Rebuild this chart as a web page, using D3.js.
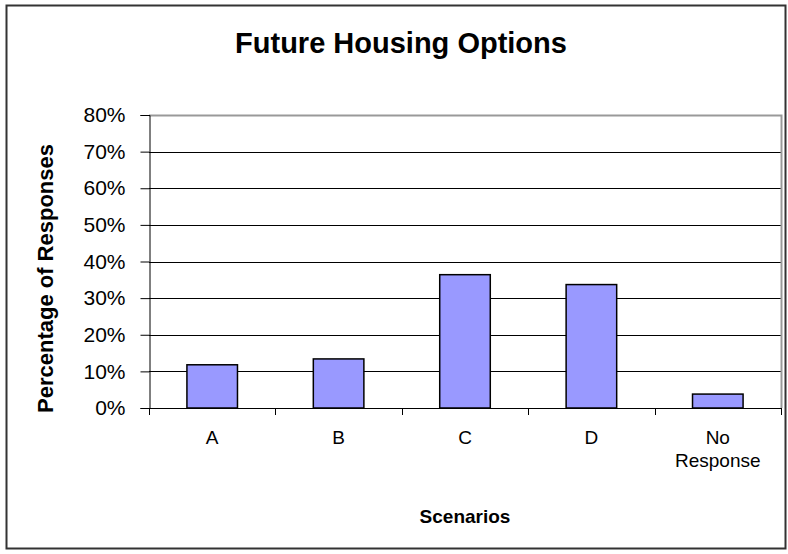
<!DOCTYPE html>
<html>
<head>
<meta charset="utf-8">
<script src="https://cdn.jsdelivr.net/npm/d3@7"></script>
<style>
  body { margin: 0; background: #fff; }
  svg { display: block; font-family: Arial, "Liberation Sans", sans-serif; }
</style>
</head>
<body>
<div id="chart"></div>
<script>
const categories = ['A', 'B', 'C', 'D', 'No Response']
const values = [0.118, 0.134, 0.364, 0.337, 0.038]
const yTicks = [0, 0.1, 0.2, 0.3, 0.4, 0.5, 0.6, 0.7, 0.8]

const W = 788
const H = 554
const plot = { left: 149, right: 781, top: 115, bottom: 408 }

const svg = d3.select('#chart')
  .append('svg')
  .attr('width', W)
  .attr('height', H)

// outer chart frame
svg.append('rect')
  .attr('x', 6.5).attr('y', 5.5)
  .attr('width', 779).attr('height', 543)
  .attr('fill', '#fff')
  .attr('stroke', '#333')
  .attr('stroke-width', 2)

const x = d3.scaleBand()
  .domain(categories)
  .range([plot.left, plot.right])
  .paddingInner(0.6)
  .paddingOuter(0.3)

const xEdge = d3.scaleLinear()
  .domain([0, categories.length])
  .range([plot.left, plot.right])

const y = d3.scaleLinear()
  .domain([0, 0.8])
  .range([plot.bottom, plot.top])

// gridlines
svg.append('g')
  .selectAll('line')
  .data(yTicks.filter(d => d > 0 && d < 0.8))
  .join('line')
  .attr('x1', plot.left).attr('x2', plot.right)
  .attr('y1', d => Math.round(y(d)) + 0.5)
  .attr('y2', d => Math.round(y(d)) + 0.5)
  .attr('stroke', '#000')
  .attr('stroke-width', 1)

// plot border (top / right)
svg.append('path')
  .attr('d', `M${plot.left},${plot.top + 0.5}H${plot.right + 0.5}V${plot.bottom}`)
  .attr('fill', 'none')
  .attr('stroke', '#999')
  .attr('stroke-width', 2)

// bars
svg.append('g')
  .selectAll('rect')
  .data(values)
  .join('rect')
  .attr('x', (d, i) => x(categories[i]))
  .attr('width', x.bandwidth())
  .attr('y', d => y(d))
  .attr('height', d => y(0) - y(d))
  .attr('fill', '#9999ff')
  .attr('stroke', '#000')
  .attr('stroke-width', 1.5)

// y axis
const yAxis = svg.append('g')
  .attr('transform', `translate(${plot.left + 0.5},0)`)
  .call(d3.axisLeft(y).tickValues(yTicks).tickFormat(d3.format('.0%')).tickSizeOuter(0).tickSize(9).tickPadding(15))
yAxis.selectAll('path, line').attr('stroke', '#000').attr('stroke-width', 1)
yAxis.selectAll('text').attr('font-size', 21).attr('fill', '#000').attr('font-family', null)

// x axis line and boundary ticks
svg.append('line')
  .attr('x1', plot.left).attr('x2', plot.right + 1)
  .attr('y1', plot.bottom + 0.5).attr('y2', plot.bottom + 0.5)
  .attr('stroke', '#000')
svg.append('g')
  .selectAll('line')
  .data(d3.range(categories.length + 1))
  .join('line')
  .attr('x1', d => Math.round(xEdge(d)) + 0.5)
  .attr('x2', d => Math.round(xEdge(d)) + 0.5)
  .attr('y1', plot.bottom).attr('y2', plot.bottom + 7)
  .attr('stroke', '#000')

// category labels
const xLabels = svg.append('g')
  .selectAll('text')
  .data(categories)
  .join('text')
  .attr('x', d => x(d) + x.bandwidth() / 2)
  .attr('y', 444)
  .attr('text-anchor', 'middle')
  .attr('font-size', 19)
xLabels.each(function (d) {
  const words = d.split(' ')
  d3.select(this).selectAll('tspan')
    .data(words)
    .join('tspan')
    .attr('x', x(d) + x.bandwidth() / 2)
    .attr('dy', (w, i) => i === 0 ? 0 : 23)
    .text(w => w)
})

// titles
svg.append('text')
  .attr('x', 401).attr('y', 53)
  .attr('text-anchor', 'middle')
  .attr('font-size', 29)
  .attr('font-weight', 'bold')
  .text('Future Housing Options')

svg.append('text')
  .attr('x', (plot.left + plot.right) / 2).attr('y', 523)
  .attr('text-anchor', 'middle')
  .attr('font-size', 19)
  .attr('font-weight', 'bold')
  .text('Scenarios')

svg.append('text')
  .attr('transform', `translate(53,${(plot.top + plot.bottom) / 2 + 17}) rotate(-90)`)
  .attr('text-anchor', 'middle')
  .attr('font-size', 22)
  .attr('font-weight', 'bold')
  .text('Percentage of Responses')
</script>
</body>
</html>
